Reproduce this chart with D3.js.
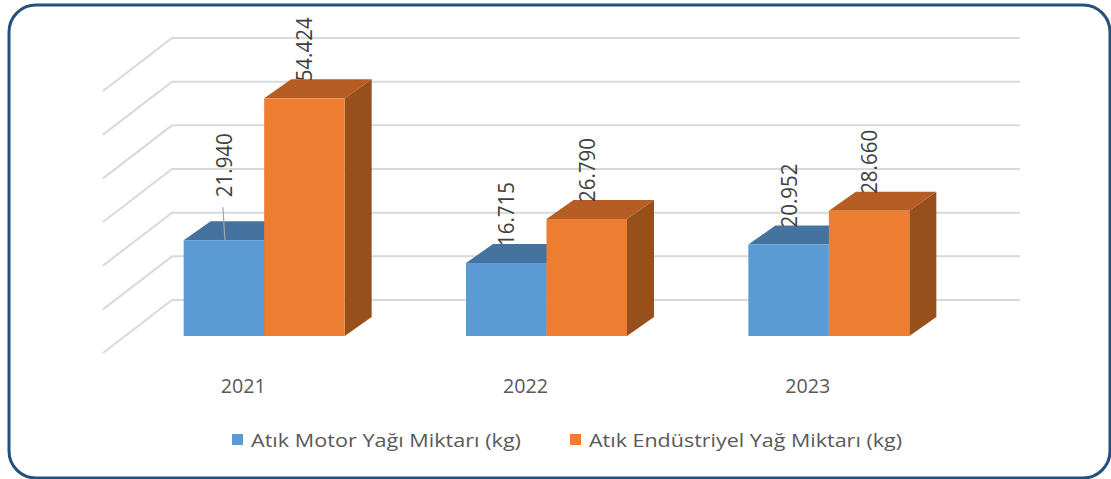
<!DOCTYPE html>
<html><head><meta charset="utf-8">
<script src="https://cdn.jsdelivr.net/npm/d3@7"></script>
<style>body{margin:0;background:#fff}svg{display:block}</style>
</head><body>
<svg id="c" width="1111" height="479"></svg>
<script>
const categories = ["2021", "2022", "2023"];
const seriesNames = ["Atık Motor Yağı Miktarı (kg)", "Atık Endüstriyel Yağ Miktarı (kg)"];
const motorValues = [21940, 16715, 20952];
const industrialValues = [54424, 26790, 28660];
const valueLabels = [["21.940", "16.715", "20.952"], ["54.424", "26.790", "28.660"]];
const series = [motorValues, industrialValues];

const svg = d3.select("#c");
const FONT = "'Open Sans', Lato, sans-serif";

svg.append("rect").attr("x", 9).attr("y", 5).attr("width", 1101).attr("height", 473)
  .attr("rx", 27).attr("fill", "#fff").attr("stroke", "#24507c").attr("stroke-width", 3);

// back-wall value scale
const yBack = d3.scaleLinear().domain([0, 60000]).range([300, 38]);
const frontDy = 36;
const depth = {dx: 27, dy: -19};
const wallLeft = 172, wallRight = 1020, diag = {dx: -69, dy: 53};

const grid = svg.append("g").attr("stroke", "#d9d9d9").attr("stroke-width", 2).attr("fill", "none");
yBack.ticks(6).forEach(t => {
  const y = yBack(t);
  grid.append("path").attr("d", `M${wallLeft + diag.dx},${y + diag.dy}L${wallLeft},${y}L${wallRight},${y}`);
});

const x0 = d3.scaleBand().domain(categories).range([123, 970]);
const x1 = d3.scaleBand().domain([0, 1]).range([0, 161]);
const groupPad = (x0.bandwidth() - 161) / 2;
const yFront = v => yBack(v) + frontDy;

const colors = [
  {front: "#5b9bd5", top: "#44739f", side: "#3f6e99"},
  {front: "#ed7d31", top: "#b55d23", side: "#974f1b"}
];

const bars = svg.append("g");
categories.forEach((c, i) => {
  series.forEach((vals, s) => {
    const v = vals[i];
    const xl = x0(c) + groupPad + x1(s);
    const xr = xl + x1.bandwidth();
    const yt = yFront(v), yb = yFront(0);
    const col = colors[s];
    bars.append("path").attr("fill", col.side)
      .attr("d", `M${xr},${yt}L${xr + depth.dx},${yt + depth.dy}L${xr + depth.dx},${yb + depth.dy}L${xr},${yb}Z`);
    bars.append("path").attr("fill", col.top)
      .attr("d", `M${xl},${yt}L${xl + depth.dx},${yt + depth.dy}L${xr + depth.dx},${yt + depth.dy}L${xr},${yt}Z`);
    bars.append("rect").attr("x", xl).attr("y", yt).attr("width", xr - xl).attr("height", yb - yt).attr("fill", col.front);
  });
});

// data labels
const labels = svg.append("g").attr("font-family", FONT).attr("font-size", 21).attr("fill", "#404040");
categories.forEach((c, i) => {
  series.forEach((vals, s) => {
    const v = vals[i];
    const xc = x0(c) + groupPad + x1(s) + x1.bandwidth() / 2;
    const yt = yFront(v);
    const lifted = (s === 0 && i === 0);
    const yLab = yt - (lifted ? 43 : 17);
    if (lifted) {
      svg.append("line").attr("x1", xc - 1).attr("y1", yLab + 10).attr("x2", xc + 1).attr("y2", yt)
        .attr("stroke", "#a6a6a6").attr("stroke-width", 1.2);
    }
    labels.append("text").attr("transform", `translate(${xc + 8},${yLab}) rotate(-90)`)
      .attr("text-anchor", "start").attr("textLength", 64).attr("lengthAdjust", "spacingAndGlyphs")
      .text(valueLabels[s][i]);
  });
});

// category labels
svg.append("g").attr("font-family", FONT).attr("font-size", 20).attr("fill", "#595959")
  .selectAll("text").data(categories).join("text")
  .attr("x", d => x0(d) + x0.bandwidth() / 2 - 21).attr("y", 393)
  .attr("text-anchor", "middle").attr("textLength", 45).attr("lengthAdjust", "spacingAndGlyphs").text(d => d);

// legend
const leg = svg.append("g").attr("font-family", FONT).attr("font-size", 19).attr("fill", "#595959");
const legX = [232, 570];
const legLen = [270, 313];
seriesNames.forEach((n, s) => {
  leg.append("rect").attr("x", legX[s]).attr("y", 434).attr("width", 11).attr("height", 11).attr("fill", colors[s].front);
  leg.append("text").attr("x", legX[s] + 19).attr("y", 447).attr("textLength", legLen[s])
    .attr("lengthAdjust", "spacingAndGlyphs").text(n);
});
</script>
</body></html>
